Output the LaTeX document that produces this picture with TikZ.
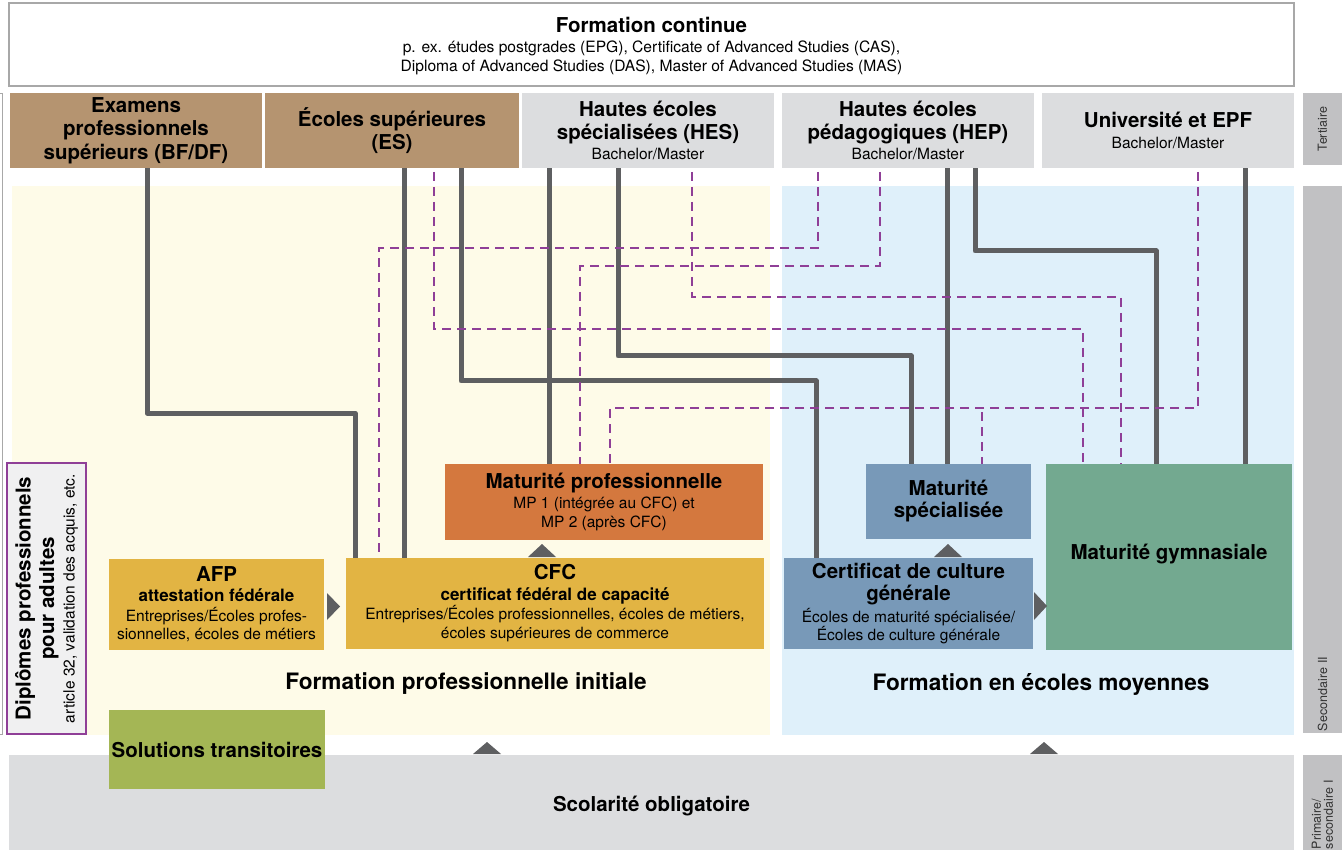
\documentclass[tikz,border=0pt]{standalone}
\usepackage{fontspec}
\setmainfont{TeX Gyre Heros}
\usetikzlibrary{calc}
\definecolor{cTan}{HTML}{B59470}
\definecolor{cGrayL}{HTML}{DCDDDF}
\definecolor{cSide}{HTML}{C1C1C3}
\definecolor{cYel}{HTML}{FEFBE8}
\definecolor{cBlue}{HTML}{DFF0FA}
\definecolor{cGold}{HTML}{E2B443}
\definecolor{cOrange}{HTML}{D4783E}
\definecolor{cSlate}{HTML}{7899B8}
\definecolor{cGreen}{HTML}{73A990}
\definecolor{cOlive}{HTML}{A4B655}
\definecolor{cLine}{HTML}{5E5F61}
\definecolor{cPurple}{HTML}{8F3F97}
\definecolor{cDipl}{HTML}{F0F0F1}
\definecolor{cBorder}{HTML}{A8A8A8}
\newcommand\fT{\fontsize{20.5}{23.5}\selectfont\bfseries}
\newcommand\fS{\fontsize{17}{20}\selectfont\bfseries}
\newcommand\fR{\fontsize{15.5}{19}\selectfont}
\newcommand\fH{\fontsize{22.6}{26}\selectfont\bfseries}
\newcommand\fL{\fontsize{12.5}{13}\selectfont}
\pgfdeclarelayer{back}
\pgfdeclarelayer{lines}
\pgfsetlayers{back,lines,main}
\tikzset{
  rect/.style={anchor=north west, inner sep=0pt, outer sep=0pt},
  box/.style={rect, align=center},
  sl/.style={draw=cLine, line width=5pt, line join=round},
  dl/.style={draw=cPurple, line width=1.8pt, dash pattern=on 9pt off 6pt, dash phase=-4pt},
  tri/.style={fill=cLine, draw=none},
  sidebar/.style={rotate=90, fill=cSide, inner sep=0pt, outer sep=0pt, minimum height=39pt, font=\fL, text=black!80},
}
\begin{document}
\begin{tikzpicture}[x=1pt,y=-1pt]
\useasboundingbox (0,0) rectangle (1342,850);

\begin{pgfonlayer}{back}
\fill[white] (0,0) rectangle (1342,850);
\node[rect, fill=cYel, minimum width=758pt, minimum height=549pt] (bgp) at (12,186) {};
\node[rect, fill=cBlue, minimum width=512pt, minimum height=549pt] (bgm) at (782,186) {};
\end{pgfonlayer}
\node[box, fill=cGrayL, minimum width=1285pt, minimum height=102pt, font=\fT] (so) at (9,755) {Scolarité obligatoire};
\draw[cBorder, line width=0.8pt] (0,93) -- (2.5,93) -- (2.5,734) -- (0,734);

% top box
\node[box, draw=cBorder, line width=1.5pt, fill=white, minimum width=1285pt, minimum height=83pt, text depth=-3pt, font=\fontsize{15.6}{18.5}\selectfont] (fc) at (9,3)
  {{\fT Formation continue}\\[1.5pt]p. ex. études postgrades (EPG), Certificate of Advanced Studies (CAS),\\Diploma of Advanced Studies (DAS), Master of Advanced Studies (MAS)};

% tertiary
\node[box, fill=cTan, minimum width=252pt, minimum height=75pt, font=\fT] (exam) at (10,93) {Examens\\professionnels\\supérieurs (BF/DF)};
\node[box, fill=cTan, minimum width=254pt, minimum height=75pt, font=\fT] (es) at (265,93) {Écoles supérieures\\(ES)};
\node[box, fill=cGrayL, minimum width=252pt, minimum height=75pt, font=\fT] (hes) at (522,93) {Hautes écoles\\spécialisées (HES)\\[-3.5pt]{\fR\mdseries Bachelor/Master}};
\node[box, fill=cGrayL, minimum width=252pt, minimum height=75pt, font=\fT] (hep) at (782,93) {Hautes écoles\\pédagogiques (HEP)\\[-3.5pt]{\fR\mdseries Bachelor/Master}};
\node[box, fill=cGrayL, minimum width=252pt, minimum height=75pt, font=\fT] (uni) at (1042,93) {Université et EPF\\[-2.5pt]{\fR\mdseries Bachelor/Master}};

% side bars
\node[sidebar, minimum width=72pt] (sbt) at (1322.5,129) {Tertiaire};
\node[sidebar, minimum width=547pt, text width=543pt, align=left] (sbs) at (1322.5,459.5) {Secondaire II};
\node[sidebar, minimum width=95pt, text width=93pt, align=left, font=\fontsize{12.5}{12}\selectfont] (sbp) at (1322.5,802.5) {Primaire/\\secondaire I};

% diplomes
\node[rotate=90, fill=cDipl, draw=cPurple, line width=1.5pt, minimum width=271pt, minimum height=79pt, inner sep=0pt, align=center, font=\fT] (dipl) at (46.5,598.5)
  {Diplômes professionnels\\pour adultes\\[-3pt]{\fR\mdseries article 32, validation des acquis, etc.}};

% secondary boxes
\node[box, fill=cGold, minimum width=215pt, minimum height=91pt, font=\fR] (afp) at (109,559)
  {{\fT AFP}\\[1pt]{\fS attestation fédérale}\\[1pt]Entreprises/Écoles profes-\\[-1pt]sionnelles, écoles de métiers};
\node[box, fill=cGold, minimum width=418pt, minimum height=91pt, font=\fR] (cfc) at (346,558)
  {{\fT CFC}\\[2pt]{\fS certificat fédéral de capacité}\\Entreprises/Écoles professionnelles, écoles de métiers,\\écoles supérieures de commerce};
\node[box, fill=cOrange, minimum width=318pt, minimum height=76pt, font=\fR] (mp) at (445,464)
  {{\fT Maturité professionnelle}\\[1pt]MP 1 (intégrée au CFC) et\\MP 2 (après CFC)};
\node[box, fill=cSlate, minimum width=165pt, minimum height=75pt, font=\fT] (ms) at (866,464)
  {Maturité\\[-1.5pt]spécialisée};
\node[box, fill=cSlate, minimum width=249pt, minimum height=91pt, font=\fR] (ccg) at (784,558)
  {{\fT Certificat de culture}\\[3pt]{\fT générale}\\[3pt]Écoles de maturité spécialisée/\\[-1pt]Écoles de culture générale};
\node[box, fill=cGreen, minimum width=246pt, minimum height=180pt, font=\fT] (mg) at (1046,464) {Maturité gymnasiale};
\fill[cGreen] (1046,640) rectangle (1292,650);
\node[box, fill=cOlive, minimum width=216pt, minimum height=79pt, font=\fT] (st) at (109,710) {Solutions transitoires};

% section labels
\node[font=\fH] (lblp) at (466,684) {Formation professionnelle initiale};
\node[font=\fH] (lblm) at (1041,684) {Formation en écoles moyennes};

\begin{pgfonlayer}{lines}
% connectors (solid)
\draw[sl] (147,0 |- exam.south) |- (355,413) -- (355,0 |- cfc.north);
\draw[sl] (404,0 |- es.south) -- (404,0 |- cfc.north);
\draw[sl] (461,0 |- es.south) |- (816,381) -- (816,0 |- ccg.north);
\draw[sl] (549,0 |- hes.south) -- (549,0 |- mp.north);
\draw[sl] (618,0 |- hes.south) |- (911,356) -- (911,0 |- ms.north);
\draw[sl] (947,0 |- hep.south) -- (947,0 |- ms.north);
\draw[sl] (975,0 |- hep.south) |- (1156,251) -- (1156,0 |- mg.north);
\draw[sl] (1245,0 |- uni.south) -- (1245,0 |- mg.north);
% connectors (dashed)
\draw[dl] (434,0 |- es.south) |- (1083,329) -- (1083,0 |- mg.north);
\draw[dl] (692,0 |- hes.south) |- (1121,297) -- (1121,0 |- mg.north);
\draw[dl] (818,0 |- hep.south) |- (379,248) -- (379,0 |- cfc.north);
\draw[dl] (880,0 |- hep.south) |- (580,266) -- (580,0 |- mp.north);
\draw[dl] (1198,0 |- uni.south) |- (610,408) -- (610,0 |- mp.north);
\coordinate (jms) at (982,408);
\draw[dl] (jms) -- (982,0 |- ms.north);
\end{pgfonlayer}

% arrow heads
\fill[tri] (327,593) -- (340,606.5) -- (327,620) -- cycle;
\fill[tri] (1034,592) -- (1047,606) -- (1034,620) -- cycle;
\fill[tri] (528,557) -- (542,544) -- (556,557) -- cycle;
\fill[tri] (934,557) -- (948,544) -- (962,557) -- cycle;
\fill[tri] (473,754) -- (487,742) -- (501,754) -- cycle;
\fill[tri] (1030,754) -- (1044,742) -- (1058,754) -- cycle;
\end{tikzpicture}
\end{document}
